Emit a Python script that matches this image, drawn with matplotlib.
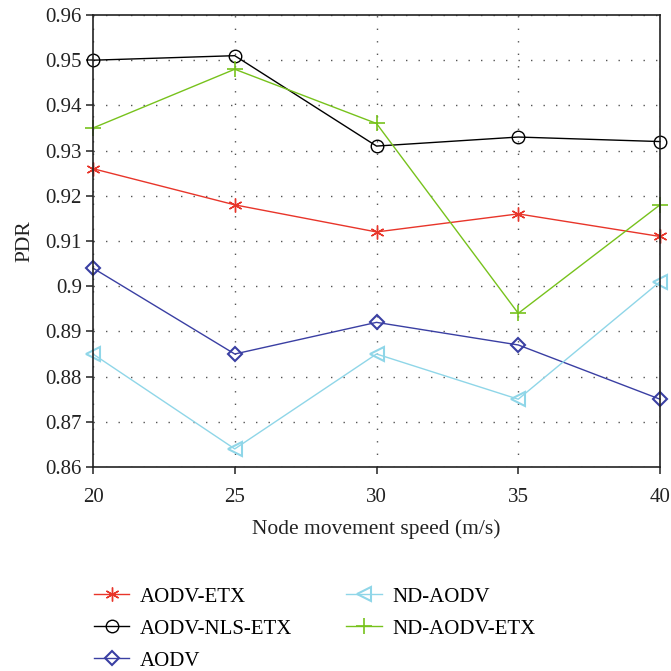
import matplotlib
matplotlib.use("Agg")
import matplotlib.pyplot as plt

speeds = [20, 25, 30, 35, 40]
aodv_etx = [0.926, 0.918, 0.912, 0.916, 0.911]
aodv_nls_etx = [0.950, 0.951, 0.931, 0.933, 0.932]
aodv = [0.904, 0.885, 0.892, 0.887, 0.875]
nd_aodv = [0.885, 0.864, 0.885, 0.875, 0.901]
nd_aodv_etx = [0.935, 0.948, 0.936, 0.894, 0.918]
yticks = [0.86, 0.87, 0.88, 0.89, 0.9, 0.91, 0.92, 0.93, 0.94, 0.95, 0.96]
ytick_labels = ["0.86", "0.87", "0.88", "0.89", "0.9", "0.91", "0.92", "0.93", "0.94", "0.95", "0.96"]

plt.rcParams['font.family'] = ['Liberation Serif', 'DejaVu Serif']

fig = plt.figure(figsize=(6.71, 6.71), dpi=100)
ax = fig.add_axes([93/671, 1-467/671, (660-93)/671, (467-15)/671])

common = dict(lw=1.0, clip_on=False)
l1, = ax.plot(speeds, aodv_etx, color='#e8352a', marker=(6, 2, 0), ms=10, mew=1.0, label='AODV-ETX', **common)
l2, = ax.plot(speeds, aodv_nls_etx, color='black', marker='o', ms=9, mfc='none', mew=1.0, label='AODV-NLS-ETX', **common)
l3, = ax.plot(speeds, aodv, color='#3a3fa3', marker='D', ms=7.5, mfc='none', mew=1.5, label='AODV', **common)
l4, = ax.plot(speeds, nd_aodv, color='#8fd6e8', marker='<', ms=10, mfc='none', mew=1.5, label='ND-AODV', **common)
l5, = ax.plot(speeds, nd_aodv_etx, color='#77c21c', marker='+', ms=12, mew=1.2, label='ND-AODV-ETX', **common)

ax.set_xlim(20, 40)
ax.set_ylim(0.86, 0.96)
ax.set_xticks(speeds)
ax.set_yticks(yticks)
ax.set_yticklabels(ytick_labels)
ax.tick_params(direction='out', labelsize=15, length=5, width=1.1, pad=3, colors='#222222')
ax.tick_params(axis='x', pad=10)
ax.grid(True, linestyle=(0, (1, 8)), color='#555555', linewidth=1.0)
for s in ax.spines.values():
    s.set_linewidth(1.2)
    s.set_color('#222222')
ax.set_xlabel('Node movement speed (m/s)', fontsize=15.5, color='#222222', labelpad=9)
ax.set_ylabel('PDR', fontsize=15.5, color='#222222', labelpad=8)

fig.legend(handles=[l1, l2, l3, l4, l5], loc='upper left', bbox_to_anchor=(94/671, 1-587/671),
           ncol=2, frameon=False, fontsize=15, handlelength=1.7, columnspacing=2.6,
           labelspacing=0.6, handletextpad=0.5, borderaxespad=0, borderpad=0)

fig.savefig('out.png', dpi=100)
